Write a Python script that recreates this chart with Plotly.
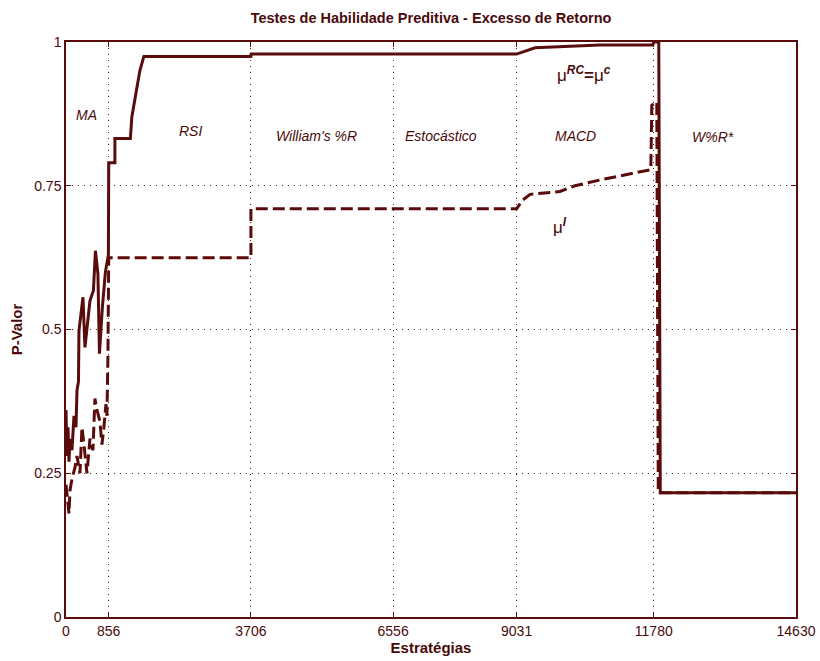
import plotly.graph_objects as go

# ---- data ----
xticks = [0, 856, 3706, 6556, 9031, 11780, 14630]
yticks = [0, 0.25, 0.5, 0.75, 1]
ytick_labels = ["0", "0.25", "0.5", "0.75", "1"]

rc_x = [0, 20, 40, 60, 80, 120, 160, 200, 220, 250, 260, 340, 380, 480, 550, 590, 640, 670, 730, 790, 850,
        856, 980, 980, 1290, 1320, 1400, 1480, 1560, 3706, 3710, 9031, 9400, 10700, 11760, 11780, 11880, 11910, 14630]
rc_y = [0.36, 0.28, 0.33, 0.27, 0.31, 0.29, 0.35, 0.33, 0.394, 0.41, 0.498, 0.556, 0.469, 0.55, 0.568, 0.637, 0.597, 0.458, 0.54, 0.60, 0.63,
        0.79, 0.79, 0.832, 0.832, 0.87, 0.91, 0.95, 0.975, 0.975, 0.979, 0.979, 0.99, 0.995, 0.995, 1.0, 1.0, 0.216, 0.216]

i_x = [0, 40, 60, 80, 120, 180, 220, 280, 320, 360, 420, 480, 540, 580, 620, 680, 720, 760, 800, 820, 840,
       856, 3706, 3706, 9031, 9150, 9300, 9900, 10200, 10700, 11300, 11720, 11740, 11840, 11870, 14630]
i_y = [0.23, 0.20, 0.18, 0.22, 0.24, 0.26, 0.28, 0.25, 0.33, 0.30, 0.25, 0.31, 0.29, 0.38, 0.36, 0.34, 0.30, 0.33, 0.37, 0.35, 0.45,
       0.625, 0.625, 0.71, 0.71, 0.725, 0.735, 0.74, 0.75, 0.76, 0.77, 0.778, 0.89, 0.896, 0.216, 0.216]

region_labels = ["MA", "RSI", "William's %R", "Estocástico", "MACD", "W%R*"]
region_label_x = [401, 2485, 5030, 7515, 10220, 12966]
region_label_y = [0.873, 0.845, 0.837, 0.837, 0.837, 0.835]

LINE = "#5a0c0c"
TXT = "#4a0a0a"
FONT = "Liberation Sans, Arial, sans-serif"
NARROW = "Liberation Sans Narrow, Liberation Sans, Arial, sans-serif"

W, H = 820, 661
ML, MR, MT, MB = 66, 24, 42, 44

fig = go.Figure()
fig.add_trace(go.Scatter(x=i_x, y=i_y, mode="lines",
                         line=dict(color=LINE, width=3, dash="12px,5px"), showlegend=False))
fig.add_trace(go.Scatter(x=rc_x, y=rc_y, mode="lines",
                         line=dict(color=LINE, width=3), showlegend=False))

for t, xx, yy in zip(region_labels, region_label_x, region_label_y):
    fig.add_annotation(x=xx, y=yy, xref="x", yref="y", text="<i>" + t + "</i>", showarrow=False,
                       font=dict(family=FONT, size=14, color=TXT))

fig.add_annotation(x=10380, y=0.945, xref="x", yref="y",
                   text="μ<sup><b><i>RC</i></b></sup><b>=</b>μ<sup><b><i>c</i></b></sup>",
                   showarrow=False, font=dict(family=FONT, size=17, color=TXT))
fig.add_annotation(x=9900, y=0.68, xref="x", yref="y",
                   text="μ<sup><b><i>I</i></b></sup>",
                   showarrow=False, font=dict(family=FONT, size=17, color=TXT))

axis_common = dict(showline=True, linecolor=LINE, linewidth=1.5, mirror="allticks",
                   ticks="inside", ticklen=5, tickcolor=LINE,
                   showgrid=True, gridcolor="#5a1a1a", griddash="1px,5px", gridwidth=1,
                   zeroline=False, automargin=False)

fig.update_xaxes(range=[0, 14630], tickvals=xticks, ticktext=[str(v) for v in xticks],
                 tickfont=dict(family=NARROW, size=14, color=TXT),
                 title=dict(text="<b>Estratégias</b>", font=dict(family=NARROW, size=15, color=TXT), standoff=5),
                 **axis_common)
fig.update_yaxes(range=[0, 1], tickvals=yticks, ticktext=ytick_labels,
                 tickfont=dict(family=FONT, size=14, color=TXT),
                 title=dict(text="<b>P-Valor</b>", font=dict(family=NARROW, size=15, color=TXT), standoff=8),
                 **axis_common)

fig.update_layout(
    width=W, height=H,
    margin=dict(l=ML, r=MR, t=MT, b=MB, autoexpand=False),
    paper_bgcolor="white", plot_bgcolor="white",
    title=dict(text="<b>Testes de Habilidade Preditiva - Excesso de Retorno</b>",
               x=(ML + W - MR) / 2 / W, xanchor="center", y=1 - 18 / H, yanchor="middle",
               font=dict(family=NARROW, size=14.5, color=TXT)),
)

fig.write_html("out.html", config={"displayModeBar": False},
               post_script="document.body.style.margin='0px';document.body.style.overflow='hidden';")
